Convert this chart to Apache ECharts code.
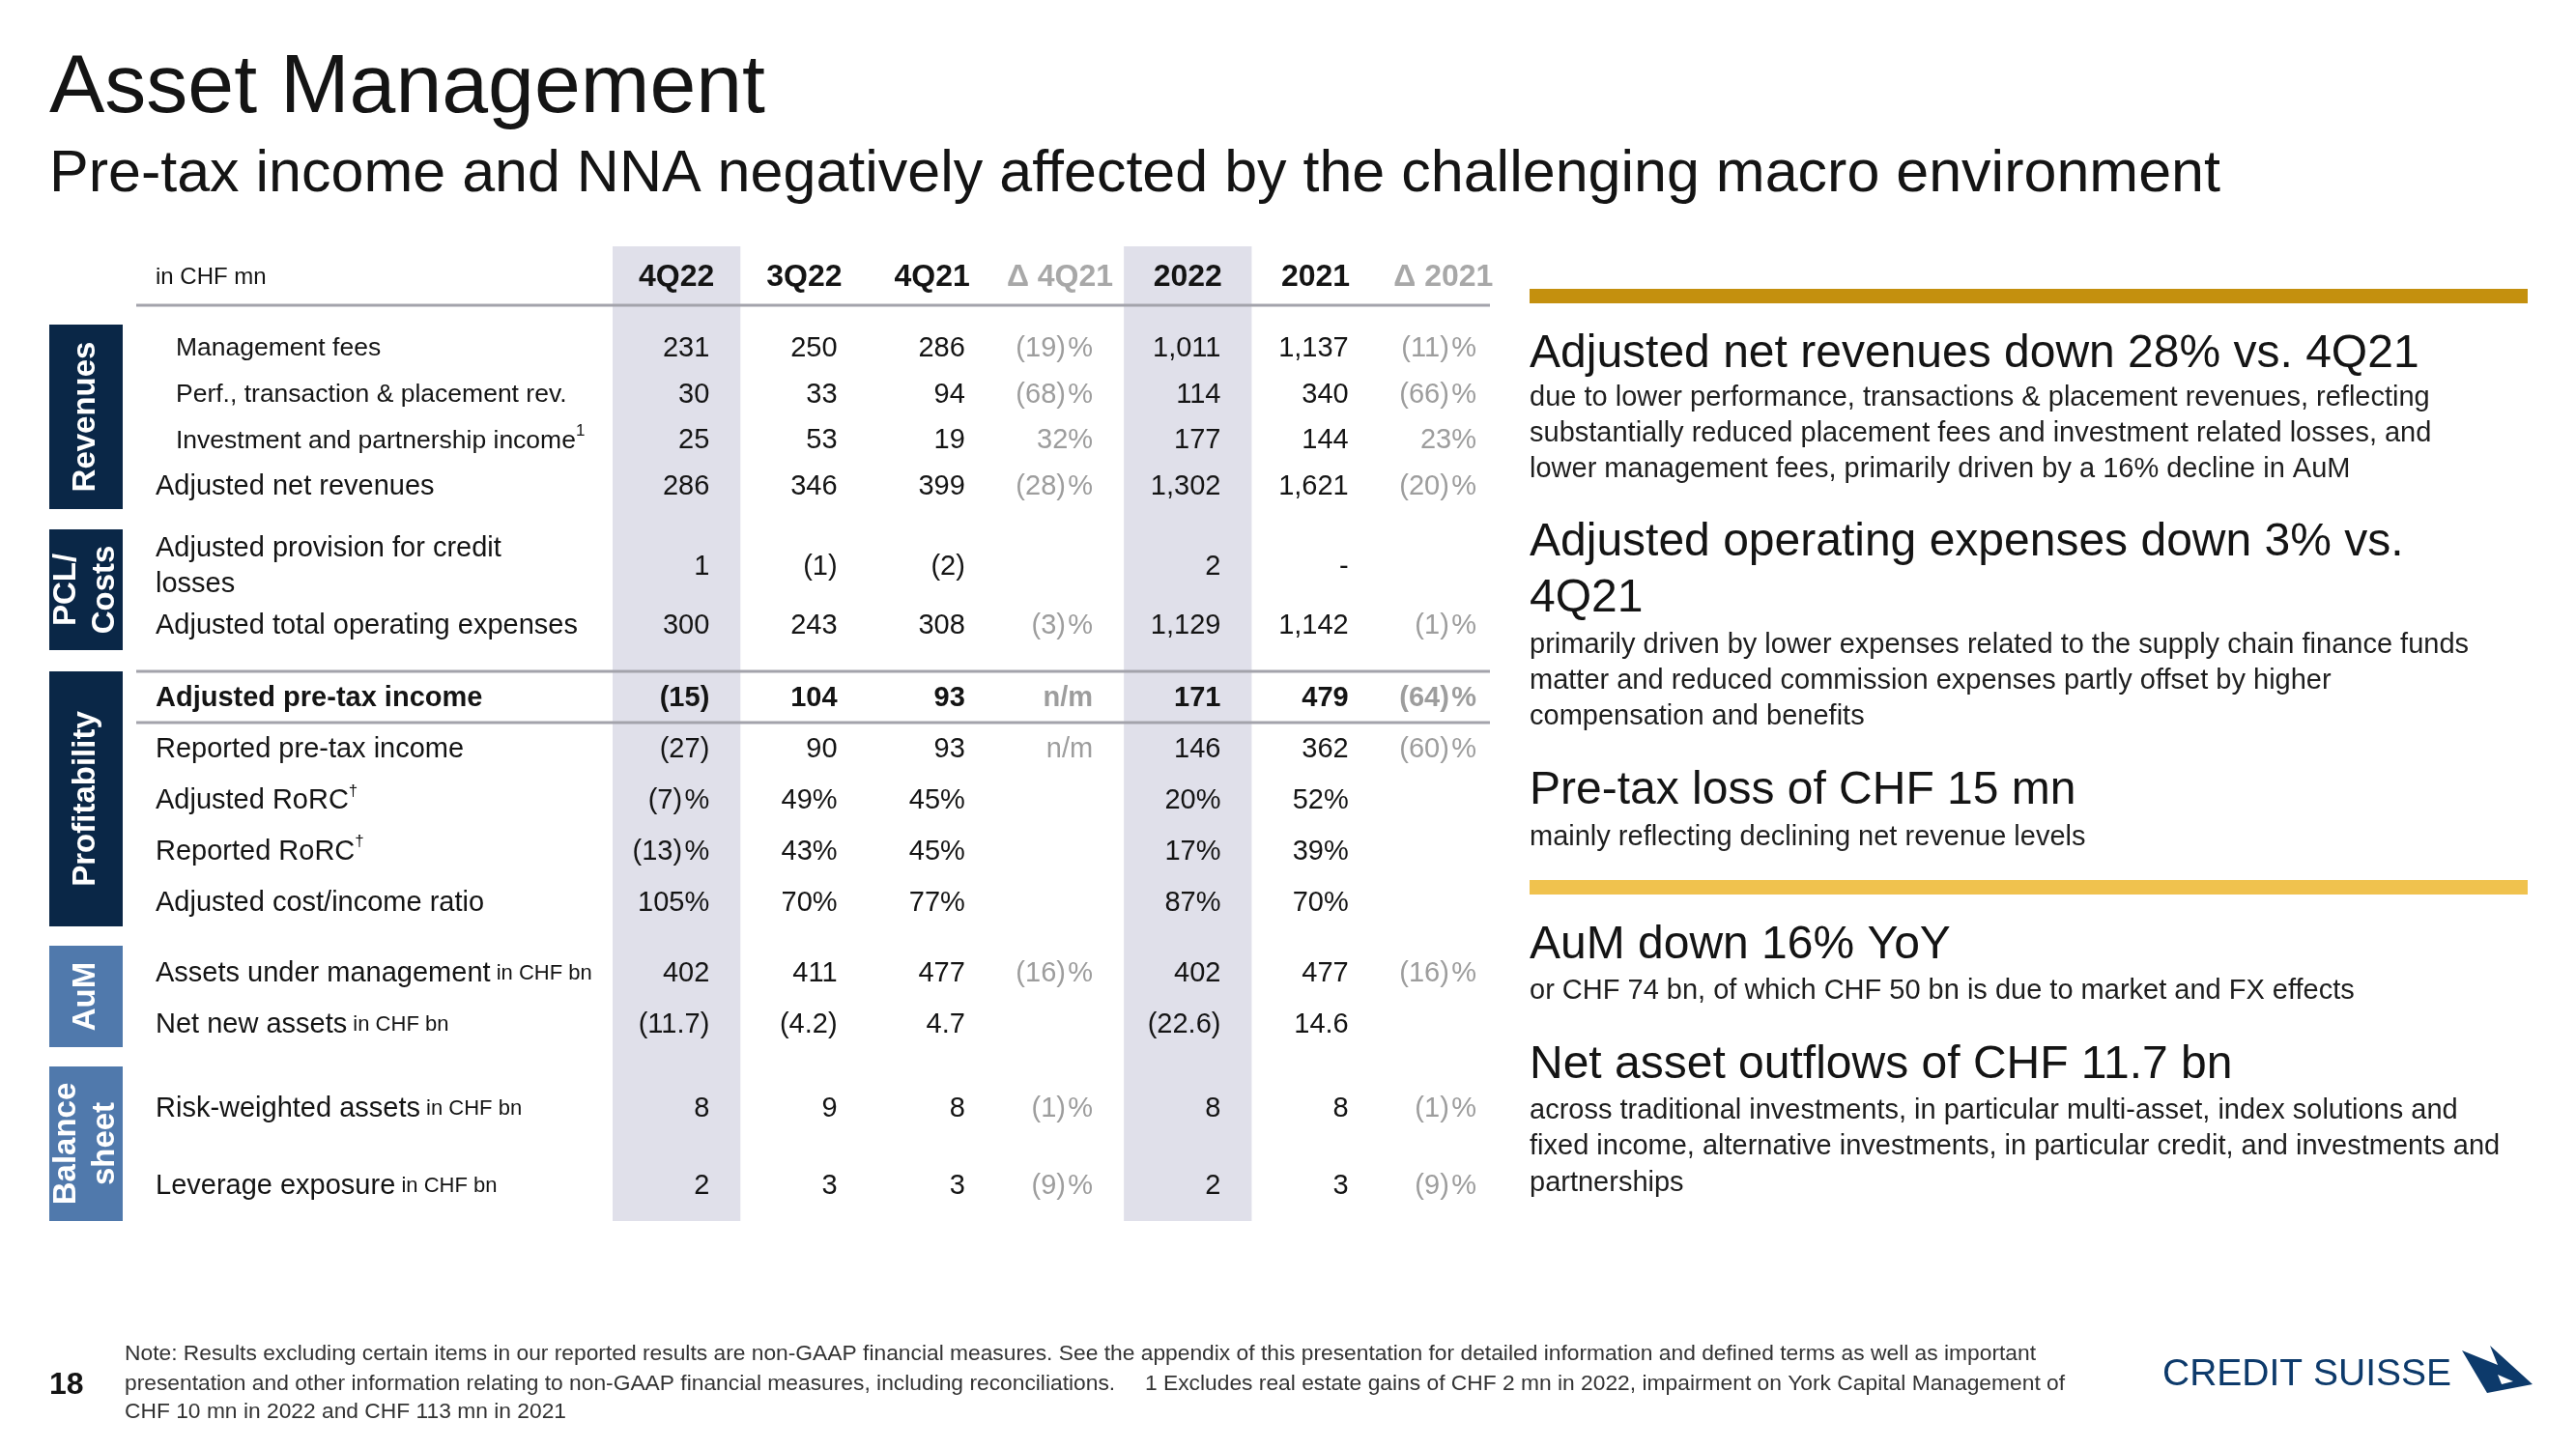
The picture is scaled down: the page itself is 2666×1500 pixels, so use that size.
<!DOCTYPE html>
<html><head><meta charset="utf-8">
<script src="https://cdn.jsdelivr.net/npm/echarts@6/dist/echarts.min.js"></script>
<style>html,body{margin:0;padding:0;background:#fff}#c{width:2666px;height:1500px}</style>
</head><body><div id="c"></div>
<script>
// ---------------- DATA ----------------
const columns = ['4Q22', '3Q22', '4Q21', 'Δ 4Q21', '2022', '2021', 'Δ 2021'];
const deltaColumns = ['Δ 4Q21', 'Δ 2021'];
const shadedColumns = ['4Q22', '2022'];
const unitLabel = 'in CHF mn';

const revenueLabels = ['Management fees', 'Perf., transaction & placement rev.', 'Investment and partnership income', 'Adjusted net revenues'];
const revenueNotes = [null, null, '1', null];
const revenueValues = [
  [231, 250, 286, -19, 1011, 1137, -11],
  [30, 33, 94, -68, 114, 340, -66],
  [25, 53, 19, 32, 177, 144, 23],
  [286, 346, 399, -28, 1302, 1621, -20]
];
const pclLabels = ['Adjusted provision for credit\nlosses', 'Adjusted total operating expenses'];
const pclValues = [
  [1, -1, -2, null, 2, '-', null],
  [300, 243, 308, -3, 1129, 1142, -1]
];
const profitLabels = ['Adjusted pre-tax income', 'Reported pre-tax income', 'Adjusted RoRC', 'Reported RoRC', 'Adjusted cost/income ratio'];
const profitNotes = [null, null, '†', '†', null];
const profitValues = [
  [-15, 104, 93, 'n/m', 171, 479, -64],
  [-27, 90, 93, 'n/m', 146, 362, -60],
  [-7, 49, 45, null, 20, 52, null],
  [-13, 43, 45, null, 17, 39, null],
  [105, 70, 77, null, 87, 70, null]
];
const aumLabels = ['Assets under management', 'Net new assets'];
const aumValues = [
  [402, 411, 477, -16, 402, 477, -16],
  [-11.7, -4.2, 4.7, null, -22.6, 14.6, null]
];
const bsLabels = ['Risk-weighted assets', 'Leverage exposure'];
const bsValues = [
  [8, 9, 8, -1, 8, 8, -1],
  [2, 3, 3, -9, 2, 3, -9]
];

// ---------------- LAYOUT / STYLE ----------------
const FF = "'Liberation Sans', Arial, Helvetica, sans-serif";
const NAVY = '#0a2747', MIDBLUE = '#5079ac', GRAY = '#9d9d9d', INK = '#141414';
const TABLE_LEFT = 634, TABLE_W = 926, LABEL_X = 161;

const sections = [
  {title: 'Revenues', labels: revenueLabels, values: revenueValues, notes: revenueNotes, sub: [0, 1, 2],
   color: NAVY, grid: [337, 191], box: [336, 191]},
  {title: 'PCL/\nCosts', labels: pclLabels, values: pclValues, color: NAVY, grid: [556, 123], box: [548, 125]},
  {title: 'Profitability', labels: profitLabels, values: profitValues, notes: profitNotes, bold: [0], pctRows: [2, 3, 4],
   color: NAVY, grid: [697, 264], box: [695, 264]},
  {title: 'AuM', labels: aumLabels, values: aumValues, unit: ' in CHF bn', decRows: [1], color: MIDBLUE, grid: [981, 107], box: [979, 105]},
  {title: 'Balance\nsheet', labels: bsLabels, values: bsValues, unit: ' in CHF bn', color: MIDBLUE, grid: [1108, 160], box: [1104, 160]}
];

function thousands(s) { return s.replace(/\B(?=(\d{3})+(?!\d))/g, ','); }
function fmt(v, pct, dec) {
  if (v === null || v === undefined) return '';
  if (typeof v === 'string') return v;
  const a = Math.abs(v);
  let s = dec ? a.toFixed(1) : thousands(String(a));
  if (v < 0) s = '(' + s + ')';
  if (pct) s += (v < 0 ? '\u200A%' : '%');
  return s;
}

const grids = [], xAxes = [], yAxes = [], series = [];

// background grid: shaded columns via splitArea
grids.push({left: TABLE_LEFT, top: 255, width: TABLE_W, height: 1009, containLabel: false, outerBoundsMode: 'none'});
xAxes.push({type: 'category', gridIndex: 0, data: columns, axisLine: {show: false}, axisTick: {show: false}, axisLabel: {show: false},
  splitArea: {show: true, interval: 0, areaStyle: {color: columns.map(c => shadedColumns.includes(c) ? '#e0e0ea' : 'rgba(255,255,255,0)')}}});
yAxes.push({type: 'value', gridIndex: 0, show: false, min: 0, max: 1});

// header grid
grids.push({left: TABLE_LEFT, top: 264, width: TABLE_W, height: 46, containLabel: false, outerBoundsMode: 'none'});
xAxes.push({type: 'category', gridIndex: 1, data: columns, show: false});
yAxes.push({type: 'category', gridIndex: 1, data: [unitLabel], inverse: true, axisLine: {show: false}, axisTick: {show: false},
  axisLabel: {align: 'left', margin: TABLE_LEFT - LABEL_X, fontSize: 24, color: INK, fontFamily: FF}});
series.push({
  type: 'custom', xAxisIndex: 1, yAxisIndex: 1, silent: true, animation: false,
  data: columns.map((c, i) => [i, 0]),
  renderItem: (params, api) => {
    const p = api.coord([api.value(0), api.value(1)]);
    const c = columns[params.dataIndex];
    return {type: 'text', x: p[0], y: p[1], style: {text: c, fill: deltaColumns.includes(c) ? '#a8a8a8' : INK,
      fontSize: 32, fontWeight: 'bold', fontFamily: FF, align: 'center', verticalAlign: 'middle'}};
  }
});

const labelRich = {
  m: {fontSize: 29, color: INK, fontFamily: FF, lineHeight: 37},
  b: {fontSize: 29, color: INK, fontFamily: FF, fontWeight: 'bold', lineHeight: 37},
  s: {fontSize: 26.5, color: INK, fontFamily: FF, lineHeight: 37, padding: [0, 0, 0, 21]},
  u: {fontSize: 22, color: INK, fontFamily: FF, lineHeight: 37},
  sup: {fontSize: 17, color: INK, fontFamily: FF, lineHeight: 22, verticalAlign: 'top'}
};

sections.forEach((sec, si) => {
  const gi = si + 2;
  grids.push({left: TABLE_LEFT, top: sec.grid[0], width: TABLE_W, height: sec.grid[1], containLabel: false, outerBoundsMode: 'none'});
  xAxes.push({type: 'category', gridIndex: gi, data: columns, show: false});
  yAxes.push({type: 'category', gridIndex: gi, data: sec.labels, inverse: true,
    axisLine: {show: false}, axisTick: {show: false}, splitLine: {show: false},
    axisLabel: {interval: 0, align: 'left', margin: TABLE_LEFT - LABEL_X, rich: labelRich,
      formatter: (val, idx) => {
        const key = (sec.bold && sec.bold.includes(idx)) ? 'b' : (sec.sub && sec.sub.includes(idx)) ? 's' : 'm';
        let out = val.split('\n').map(l => '{' + key + '|' + l + '}').join('\n');
        if (sec.notes && sec.notes[idx]) out += '{sup|' + sec.notes[idx] + '}';
        if (sec.unit) out += '{u|' + sec.unit + '}';
        return out;
      }}});
  const cells = [];
  sec.values.forEach((row, r) => {
    row.forEach((v, c) => {
      const isDelta = deltaColumns.includes(columns[c]);
      const pct = isDelta || (sec.pctRows && sec.pctRows.includes(r));
      const dec = !isDelta && sec.decRows && sec.decRows.includes(r);
      const text = fmt(v, pct, dec);
      if (text === '') return;
      cells.push({col: c, row: r, text, color: isDelta ? GRAY : INK, bold: sec.bold && sec.bold.includes(r)});
    });
  });
  series.push({
    type: 'custom', xAxisIndex: gi, yAxisIndex: gi, silent: true, animation: false,
    data: cells.map(c => [c.col, c.row]),
    renderItem: (params, api) => {
      const c = cells[params.dataIndex];
      const p = api.coord([api.value(0), api.value(1)]);
      const half = api.size([1, 0])[0] / 2;
      return {type: 'text', x: p[0] + half - 32, y: p[1], style: {text: c.text, fill: c.color, fontSize: 29,
        fontWeight: c.bold ? 'bold' : 'normal', fontFamily: FF, align: 'right', verticalAlign: 'middle'}};
    }
  });
});

// ---------------- DECORATION (graphic) ----------------
const g = [];
function txt(x, y, text, size, opts) {
  opts = opts || {};
  g.push({type: 'text', x, y, rotation: opts.rotation || 0, silent: true, z: 10,
    style: {text, fontSize: size, fontFamily: FF, fontWeight: opts.weight || 'normal', fill: opts.fill || INK,
      align: opts.align || 'left', verticalAlign: opts.va || 'middle', lineHeight: opts.lh}});
}
function rect(x, y, w, h, fill) { g.push({type: 'rect', silent: true, z: 5, shape: {x, y, width: w, height: h}, style: {fill}}); }
function hline(x1, x2, y, color, w) { g.push({type: 'line', silent: true, z: 11, shape: {x1, y1: y, x2, y2: y}, style: {stroke: color, lineWidth: w}}); }

txt(51, 92, 'Asset Management', 86);
txt(51, 181, 'Pre-tax income and NNA negatively affected by the challenging macro environment', 61);

// table rules
hline(141, 1542, 316, '#a3a3ab', 3);
hline(141, 1542, 695, '#a3a3ab', 3);
hline(141, 1542, 748, '#a3a3ab', 3);

// section boxes
sections.forEach(sec => {
  rect(51, sec.box[0], 76, sec.box[1], sec.color);
  txt(89, sec.box[0] + sec.box[1] / 2, sec.title, 33, {weight: 'bold', fill: '#fff', align: 'center', rotation: Math.PI / 2, lh: 40});
});

// right panel
const PX = 1583, PW = 1033, BODY = 29;
rect(PX, 299, PW, 15, '#c4900e');
txt(PX, 367, 'Adjusted net revenues down 28% vs. 4Q21', 48);
txt(PX, 393, 'due to lower performance, transactions & placement revenues, reflecting\nsubstantially reduced placement fees and investment related losses, and\nlower management fees, primarily driven by a 16% decline in AuM', BODY, {va: 'top', lh: 37, fill: '#1e1e1e'});
txt(PX, 533, 'Adjusted operating expenses down 3% vs.\n4Q21', 48, {va: 'top', lh: 58});
txt(PX, 649.5, 'primarily driven by lower expenses related to the supply chain finance funds\nmatter and reduced commission expenses partly offset by higher\ncompensation and benefits', BODY, {va: 'top', lh: 37, fill: '#1e1e1e'});
txt(PX, 819, 'Pre-tax loss of CHF 15 mn', 48);
txt(PX, 866.5, 'mainly reflecting declining net revenue levels', BODY, {fill: '#1e1e1e'});
rect(PX, 911, PW, 15, '#f0c24e');
txt(PX, 979, 'AuM down 16% YoY', 48);
txt(PX, 1025.5, 'or CHF 74 bn, of which CHF 50 bn is due to market and FX effects', BODY, {fill: '#1e1e1e'});
txt(PX, 1103, 'Net asset outflows of CHF 11.7 bn', 48);
txt(PX, 1131, 'across traditional investments, in particular multi-asset, index solutions and\nfixed income, alternative investments, in particular credit, and investments and\npartnerships', BODY, {va: 'top', lh: 37.5, fill: '#1e1e1e'});

// footer
const NOTE = 22.8;
txt(51, 1434, '18', 32, {weight: 'bold'});
txt(129, 1402, 'Note: Results excluding certain items in our reported results are non-GAAP financial measures. See the appendix of this presentation for detailed information and defined terms as well as important', NOTE, {fill: '#333'});
txt(129, 1433, 'presentation and other information relating to non-GAAP financial measures, including reconciliations.', NOTE, {fill: '#333'});
txt(1185, 1433, '1 Excludes real estate gains of CHF 2 mn in 2022, impairment on York Capital Management of', NOTE, {fill: '#333'});
txt(129, 1462, 'CHF 10 mn in 2022 and CHF 113 mn in 2021', NOTE, {fill: '#333'});

// logo
txt(2238, 1423, 'CREDIT SUISSE', 39, {fill: '#0d3a6b'});
g.push({type: 'polygon', silent: true, z: 10, shape: {points: [[2548, 1398], [2585, 1413], [2577, 1393], [2621, 1433], [2574, 1442]]}, style: {fill: '#0d3a6b'}});
g.push({type: 'polygon', silent: true, z: 11, shape: {points: [[2585, 1423], [2601, 1430], [2589, 1433]]}, style: {fill: '#fff'}});

const chart = echarts.init(document.getElementById('c'), null, {renderer: 'canvas', width: 2666, height: 1500});
chart.setOption({
  animation: false,
  backgroundColor: '#fff',
  grid: grids, xAxis: xAxes, yAxis: yAxes, series: series,
  graphic: {elements: g}
});
</script></body></html>
